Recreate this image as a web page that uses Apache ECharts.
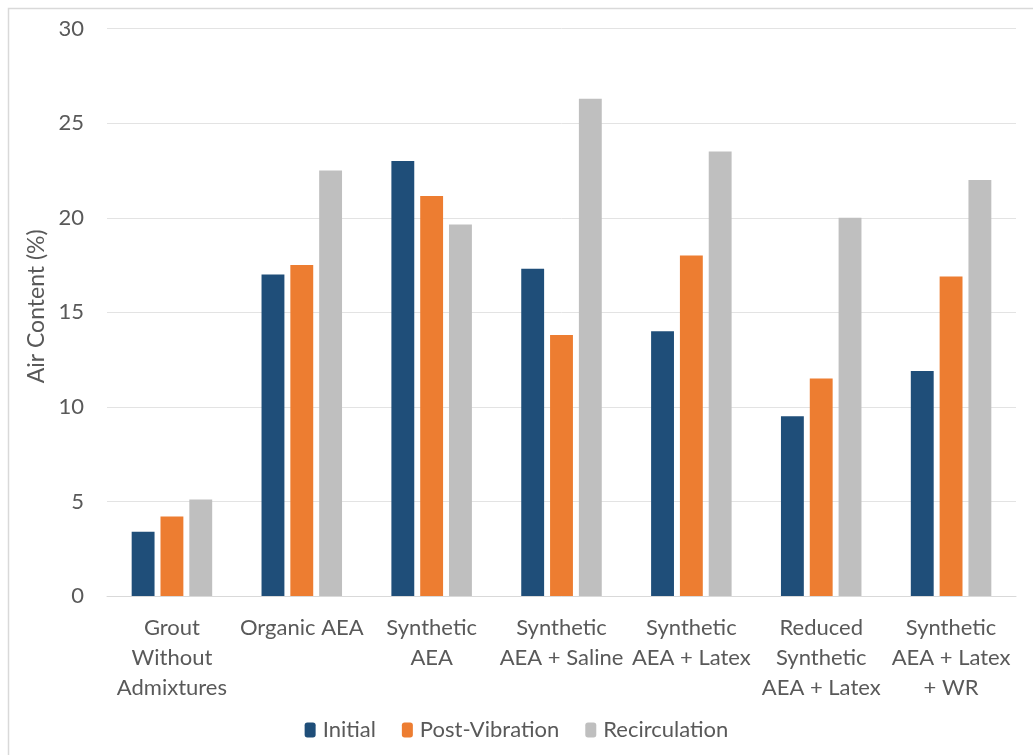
<!DOCTYPE html>
<html><head><meta charset="utf-8">
<script src="https://cdn.jsdelivr.net/npm/echarts@6/dist/echarts.min.js"></script>
<style>html,body{margin:0;padding:0;background:#fff}#c{width:1033px;height:755px}</style>
</head><body><div id="c"></div>
<script>
const categories = ["Grout\nWithout\nAdmixtures","Organic AEA","Synthetic\nAEA","Synthetic\nAEA + Saline","Synthetic\nAEA + Latex","Reduced\nSynthetic\nAEA + Latex","Synthetic\nAEA + Latex\n+ WR"];
const initial = [3.4, 17.0, 23.0, 17.3, 14.0, 9.5, 11.9];
const postVibration = [4.2, 17.5, 21.15, 13.8, 18.0, 11.5, 16.9];
const recirculation = [5.1, 22.5, 19.65, 26.3, 23.5, 20.0, 22.0];
const yTicks = [0, 5, 10, 15, 20, 25, 30];

const font = 'Lato, "Open Sans", sans-serif';
const chart = echarts.init(document.getElementById('c'), null, {renderer: 'canvas'});
chart.setOption({
  animation: false,
  backgroundColor: '#fff',
  graphic: [{type: 'rect', left: 6, top: 6, shape: {width: 1100, height: 800}, style: {fill: 'none', stroke: '#d9d9d9', lineWidth: 1.5}, silent: true}],
  grid: {left: 107, right: 17, top: 28.7, bottom: 159},
  legend: {
    bottom: 9, left: 'center', itemWidth: 11, itemHeight: 15, itemGap: 26,
    textStyle: {color: '#595959', fontSize: 22, fontFamily: font, padding: [0, 0, 0, 2]},
    data: ['Initial', 'Post-Vibration', 'Recirculation']
  },
  xAxis: {
    type: 'category', data: categories,
    axisLine: {lineStyle: {color: '#d9d9d9', width: 1}},
    axisTick: {show: false},
    axisLabel: {color: '#595959', fontSize: 22, fontFamily: font, lineHeight: 30, margin: 17, interval: 0}
  },
  yAxis: {
    type: 'value', min: yTicks[0], max: yTicks[yTicks.length - 1], interval: 5,
    name: 'Air Content (%)', nameLocation: 'middle', nameGap: 52, nameRotate: 90,
    nameTextStyle: {color: '#595959', fontSize: 23, fontFamily: font, padding: [0, 0, 0, 12]},
    axisLine: {show: false}, axisTick: {show: false},
    axisLabel: {color: '#595959', fontSize: 22, fontFamily: font, margin: 23},
    splitLine: {lineStyle: {color: '#e3e3e3', width: 1}}
  },
  series: [
    {name: 'Initial', type: 'bar', data: initial, itemStyle: {color: '#1f4e79'}, barGap: '26%', barCategoryGap: '38%'},
    {name: 'Post-Vibration', type: 'bar', data: postVibration, itemStyle: {color: '#ed7d31'}},
    {name: 'Recirculation', type: 'bar', data: recirculation, itemStyle: {color: '#bfbfbf'}}
  ]
});
</script></body></html>
